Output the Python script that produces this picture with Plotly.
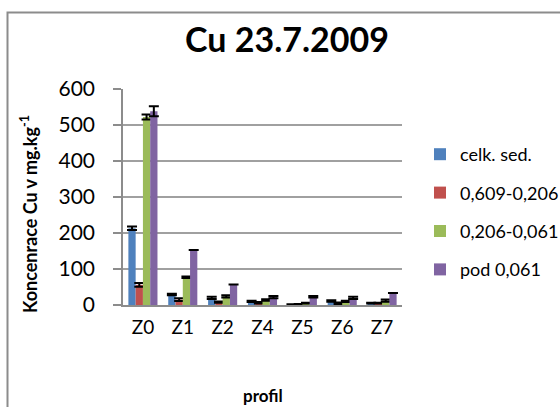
import plotly.graph_objects as go

# Sampling profiles and Cu concentration per grain-size fraction (mg/kg)
profiles = ["Z0", "Z1", "Z2", "Z4", "Z5", "Z6", "Z7"]
series_names = ["celk. sed.", "0,609-0,206", "0,206-0,061", "pod 0,061"]

celk_sed = [213, 29, 20, 10, 1, 11, 5]
frac_609_206 = [56, 15, 8, 6, 2, 5, 5]
frac_206_061 = [522, 77, 24, 14, 5, 10, 12]
pod_061 = [538, 153, 57, 22, 23, 20, 33]

err_celk_sed = [5, 2, 3, 2, 1, 2, 1]
err_609_206 = [5, 4, 2, 2, 1, 2, 1]
err_206_061 = [7, 2, 3, 2, 1, 2, 3]
err_pod_061 = [14, 0, 0, 3, 2, 3, 0]

colors = ["#4F81BD", "#C0504D", "#9BBB59", "#8064A2"]
values = [celk_sed, frac_609_206, frac_206_061, pod_061]
errors = [err_celk_sed, err_609_206, err_206_061, err_pod_061]

FONT = "Lato, 'Open Sans', sans-serif"

fig = go.Figure()
for name, vals, errs, col in zip(series_names, values, errors, colors):
    fig.add_trace(go.Bar(
        x=profiles, y=vals, name=name,
        marker=dict(color=col, line=dict(width=0)),
        error_y=dict(type="data", array=errs, color="black", thickness=2, width=5),
        legendgroup=name,
    ))

# Plot-area geometry in pixels
W, H = 560, 407
L, R, T, B = 123, 402, 89, 305
pw, ph = R - L, B - T

def px_x(p):
    return (p - L) / pw

def px_y(p):
    return (B - p) / ph

fig.update_layout(
    width=W, height=H,
    margin=dict(l=L, r=W - R, t=T, b=H - B, pad=0, autoexpand=False),
    paper_bgcolor="white", plot_bgcolor="white",
    barmode="group", bargap=0.27, bargroupgap=0,
    font=dict(family=FONT, color="black"),
    title=dict(text="<b>Cu 23.7.2009</b>", x=287 / W, xanchor="center",
               y=1 - 40 / H, yanchor="middle",
               font=dict(size=34, family=FONT, color="black")),
    legend=dict(x=px_x(420), xanchor="left", y=px_y(136), yanchor="top",
                traceorder="grouped", tracegroupgap=12,
                font=dict(size=18, family=FONT, color="black"),
                bgcolor="rgba(0,0,0,0)"),
    showlegend=True,
)

fig.update_yaxes(
    range=[0, 600], tickvals=[0, 100, 200, 300, 400, 500, 600],
    showgrid=True, gridcolor="#a0a0a0", gridwidth=1.5,
    showline=True, linecolor="#8c8c8c", linewidth=1.5,
    ticks="outside", ticklen=8, tickcolor="#8c8c8c", tickwidth=1.5,
    ticklabelstandoff=14, automargin=False,
    tickfont=dict(size=21, family=FONT, color="black"),
    zeroline=False,
)

fig.update_xaxes(
    showline=True, linecolor="#8c8c8c", linewidth=1.5,
    ticks="", ticklabelstandoff=4, automargin=False,
    tickfont=dict(size=19, family=FONT, color="black"),
)

# Axis titles, placed as annotations
fig.add_annotation(
    text="<b>Koncenrace Cu v mg.kg<sup>-1</sup></b>",
    xref="paper", yref="paper", x=px_x(29), y=px_y(214),
    xanchor="center", yanchor="middle", textangle=-90, showarrow=False,
    font=dict(size=18, family=FONT, color="black"),
)
fig.add_annotation(
    text="<b>profil</b>",
    xref="paper", yref="paper", x=0.5, y=px_y(395),
    xanchor="center", yanchor="middle", showarrow=False,
    font=dict(size=17, family=FONT, color="black"),
)

# Outer chart frame (top and left edges visible)
fig.add_shape(type="rect", xref="paper", yref="paper",
              x0=px_x(7.5), x1=px_x(580), y0=px_y(430), y1=px_y(12.5),
              line=dict(color="#8c8c8c", width=2), fillcolor="rgba(0,0,0,0)",
              layer="below")

fig.write_html("out.html")
